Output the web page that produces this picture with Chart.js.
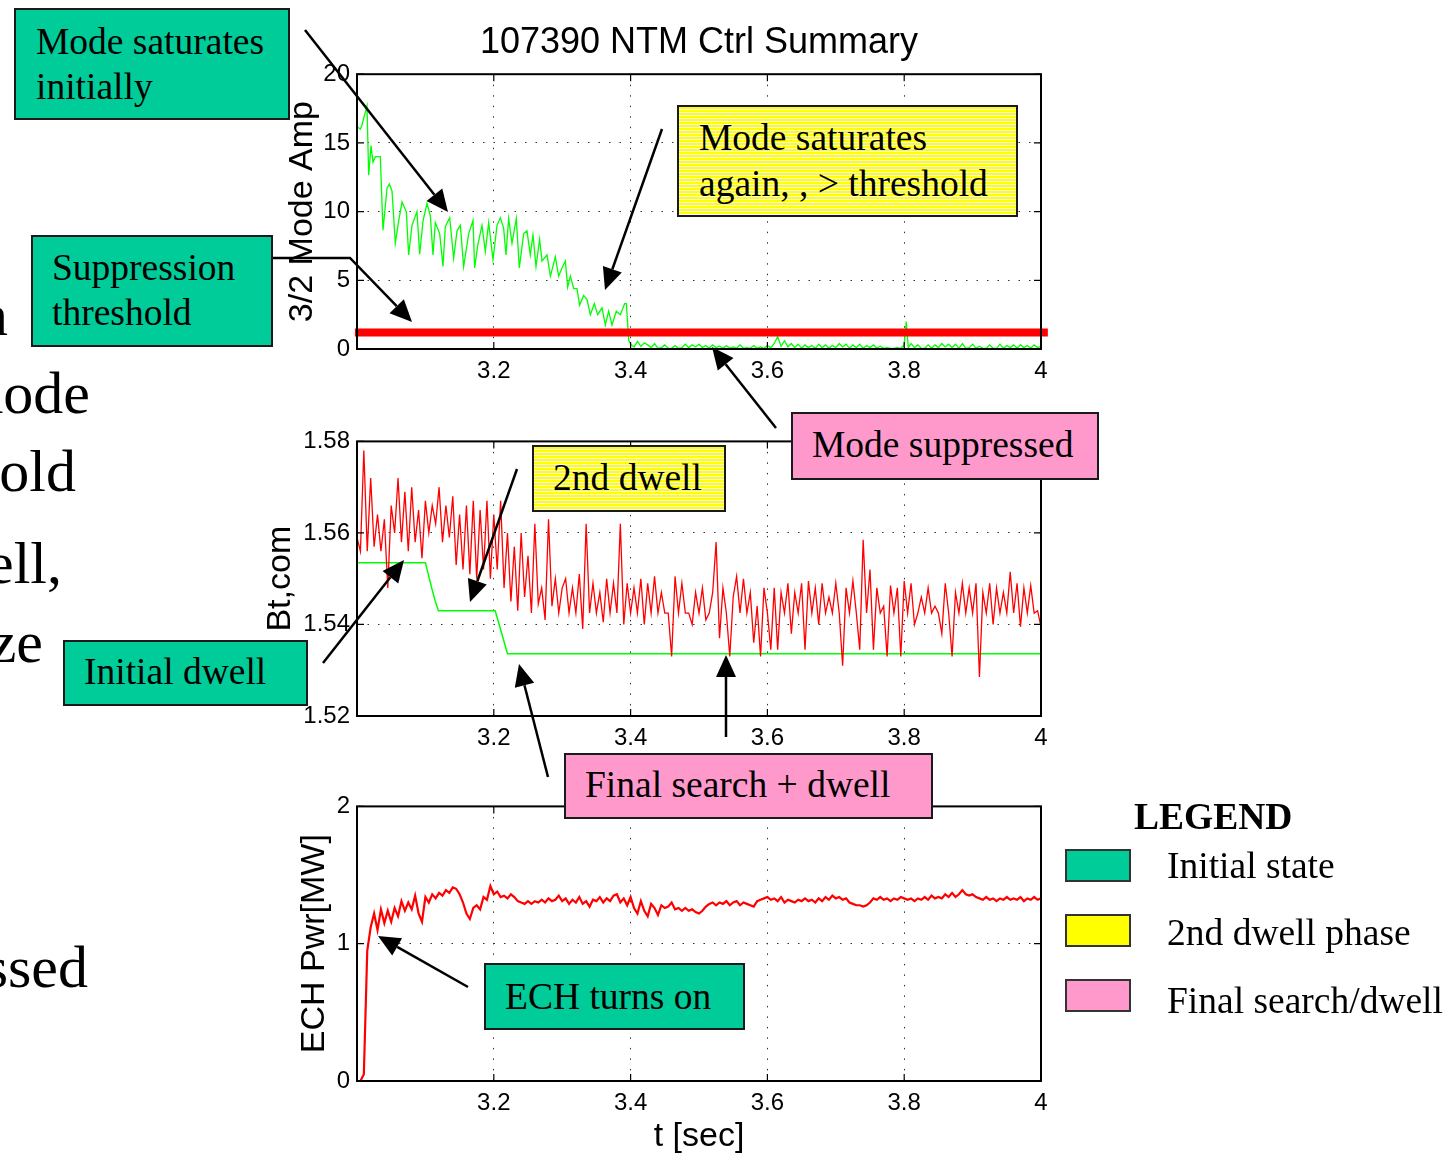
<!DOCTYPE html>
<html>
<head>
<meta charset="utf-8">
<script src="https://cdn.jsdelivr.net/npm/chart.js@4.4.1/dist/chart.umd.min.js"></script>
<style>
body { margin: 0; background: #fff; }
#page { position: relative; width: 1456px; height: 1154px; overflow: hidden; background: #fff; }
canvas { position: absolute; }
.big { position: absolute; font-family: 'Liberation Serif', 'Times New Roman', serif; font-size: 60px; line-height: 60px; white-space: nowrap; text-align: right; color: #000; }
.box { position: absolute; box-sizing: border-box; border: 2px solid #1a1a1a; font-family: 'Liberation Serif', 'Times New Roman', serif; font-size: 37.5px; line-height: 45px; color: #000; white-space: nowrap; }
.green { background: #00cc99; }
.pink { background: #ff99cc; }
.stripe { background: repeating-linear-gradient(to bottom, #ffff00 0px, #ffff00 2px, #ffffff 2px, #ffffff 3px); }
.swatch { position: absolute; box-sizing: border-box; border: 2px solid #333; width: 66px; height: 33px; }
.leg { position: absolute; font-family: 'Liberation Serif', 'Times New Roman', serif; font-size: 37.5px; line-height: 45px; white-space: nowrap; color: #000; }
#arrows { position: absolute; left: 0; top: 0; }
</style>
</head>
<body>
<div id="page">
  <div class="big" style="right:1448px;top:285px">in</div>
  <div class="big" style="right:1366px;top:363px">mode</div>
  <div class="big" style="right:1380px;top:441px">threshold</div>
  <div class="big" style="right:1394px;top:533px">dwell,</div>
  <div class="big" style="right:1413px;top:612px">size</div>
  <div class="big" style="right:1368px;top:937px">suppressed</div>

  <canvas id="ampChart" width="870" height="400" style="left:200px;top:0px"></canvas>
  <canvas id="btChart" width="870" height="347" style="left:200px;top:420px"></canvas>
  <canvas id="echChart" width="870" height="369" style="left:200px;top:785px"></canvas>

  <svg id="arrows" width="1456" height="1154"></svg>

  <div class="box green" style="left:14px;top:8px;width:276px;height:112px;padding:9px 0 0 20px">Mode saturates<br>initially</div>
  <div class="box green" style="left:31px;top:235px;width:242px;height:112px;padding:8px 0 0 19px">Suppression<br>threshold</div>
  <div class="box green" style="left:63px;top:640px;width:245px;height:66px;padding:7px 0 0 19px">Initial dwell</div>
  <div class="box green" style="left:484px;top:963px;width:261px;height:67px;padding:9px 0 0 19px">ECH turns on</div>
  <div class="box stripe" style="left:677px;top:105px;width:341px;height:112px;padding:8px 0 0 20px;line-height:46px">Mode saturates<br>again, , &gt; threshold</div>
  <div class="box stripe" style="left:532px;top:445px;width:194px;height:67px;padding:8px 0 0 19px">2nd dwell</div>
  <div class="box pink" style="left:791px;top:412px;width:308px;height:68px;padding:8px 0 0 19px">Mode suppressed</div>
  <div class="box pink" style="left:564px;top:753px;width:369px;height:66px;padding:7px 0 0 19px">Final search + dwell</div>

  <div class="leg" style="left:1134px;top:794px;font-weight:bold">LEGEND</div>
  <div class="swatch green" style="left:1065px;top:849px"></div>
  <div class="swatch" style="left:1065px;top:914px;background:#ffff00"></div>
  <div class="swatch pink" style="left:1065px;top:979px"></div>
  <div class="leg" style="left:1167px;top:843px">Initial state</div>
  <div class="leg" style="left:1167px;top:910px">2nd dwell phase</div>
  <div class="leg" style="left:1167px;top:978px">Final search/dwell</div>
</div>
<script>
// ---- 3/2 mode amplitude (top panel) ----
const ampTime = [
  3.000, 3.0049, 3.0073, 3.0146, 3.0171, 3.0205, 3.0234, 3.0268, 3.0341, 3.038,
  3.0439, 3.0473, 3.0512, 3.056, 3.0609, 3.0658, 3.0721, 3.0755, 3.0804, 3.0877,
  3.0916, 3.0965, 3.1023, 3.1072, 3.1111, 3.1145, 3.1209, 3.1257, 3.1291, 3.1355,
  3.1413, 3.1462, 3.1511, 3.1559, 3.1633, 3.1696, 3.172, 3.1764, 3.1827, 3.1876,
  3.1925, 3.1988, 3.2047, 3.2096, 3.2144, 3.2178, 3.2217, 3.2266, 3.2329, 3.2373,
  3.2437, 3.2485, 3.2534, 3.2573, 3.2617, 3.267, 3.2705, 3.2778, 3.2827, 3.29,
  3.2948, 3.2997, 3.3046, 3.308, 3.3119, 3.3168, 3.3216, 3.3255, 3.3314, 3.3363,
  3.3411, 3.347, 3.3519, 3.3582, 3.3631, 3.3679, 3.3728, 3.3791, 3.385, 3.3913,
  3.3938, 3.3972,
  3.400, 3.405, 3.410, 3.415, 3.420, 3.425, 3.430, 3.435, 3.440, 3.445,
  3.450, 3.455, 3.460, 3.465, 3.470, 3.475, 3.480, 3.485, 3.490, 3.495,
  3.500, 3.505, 3.510, 3.515, 3.520, 3.525, 3.530, 3.535, 3.540, 3.545,
  3.550, 3.555, 3.560, 3.565, 3.570, 3.575, 3.580, 3.585, 3.590, 3.595,
  3.600, 3.605, 3.610, 3.615, 3.620, 3.625, 3.630, 3.635, 3.640, 3.645,
  3.650, 3.655, 3.660, 3.665, 3.670, 3.675, 3.680, 3.685, 3.690, 3.695,
  3.700, 3.705, 3.710, 3.715, 3.720, 3.725, 3.730, 3.735, 3.740, 3.745,
  3.750, 3.755, 3.760, 3.765, 3.770, 3.775, 3.780, 3.785, 3.790, 3.795,
  3.800, 3.803, 3.806, 3.810, 3.815, 3.820, 3.825, 3.830, 3.835, 3.840,
  3.845, 3.850, 3.855, 3.860, 3.865, 3.870, 3.875, 3.880, 3.885, 3.890,
  3.895, 3.900, 3.905, 3.910, 3.915, 3.920, 3.925, 3.930, 3.935, 3.940,
  3.945, 3.950, 3.955, 3.960, 3.965, 3.970, 3.975, 3.980, 3.985, 3.990,
  3.995, 4.000
];
const ampValue = [
  16.2, 16.0, 16.3, 17.7, 12.65, 14.8, 13.6, 14.0, 14.0, 8.65,
  11.7, 12.0, 11.5, 7.7, 9.3, 10.7, 10.0, 6.85, 9.0, 10.0,
  6.9, 9.3, 10.6, 9.7, 6.85, 9.2, 8.4, 6.0, 8.9, 9.55,
  6.6, 8.6, 9.0, 6.0, 8.4, 9.35, 5.9, 7.5, 9.0, 7.1,
  9.2, 6.5, 9.0, 9.55, 8.8, 6.85, 9.5, 7.7, 9.5, 5.9,
  8.4, 8.6, 6.85, 8.3, 6.0, 8.0, 6.4, 6.85, 5.3, 6.7,
  5.3, 5.9, 6.4, 4.5, 5.3, 4.4, 4.4, 3.2, 3.9, 3.6,
  2.5, 3.3, 2.5, 3.0, 1.75, 2.75, 1.75, 2.75, 2.5, 3.3,
  3.3, 0.65,
  0.35, 0.15, 0.55, 0.20, 0.45, 0.30, 0.10, 0.40, 0.05, 0.10,
  0.30, 0.05, 0.05, 0.25, 0.05, 0.10, 0.35, 0.10, 0.30, 0.15,
  0.35, 0.10, 0.25, 0.05, 0.30, 0.10, 0.20, 0.05, 0.25, 0.05,
  0.15, 0.05, 0.30, 0.05, 0.10, 0.05, 0.25, 0.05, 0.15, 0.05,
  0.25, 0.10, 0.40, 0.90, 0.20, 0.60, 0.15, 0.40, 0.10, 0.35,
  0.05, 0.30, 0.10, 0.25, 0.05, 0.35, 0.10, 0.30, 0.05, 0.25,
  0.10, 0.40, 0.15, 0.35, 0.05, 0.30, 0.10, 0.35, 0.05, 0.25,
  0.10, 0.30, 0.05, 0.20, 0.05, 0.10, 0.05, 0.05, 0.10, 0.05,
  0.30, 2.00, 0.10, 0.40, 0.10, 0.30, 0.05, 0.05, 0.30, 0.05,
  0.30, 0.10, 0.40, 0.15, 0.35, 0.10, 0.35, 0.05, 0.40, 0.05,
  0.10, 0.35, 0.05, 0.20, 0.05, 0.05, 0.30, 0.05, 0.05, 0.35,
  0.05, 0.25, 0.10, 0.30, 0.05, 0.30, 0.10, 0.25, 0.05, 0.30,
  0.10, 0.20
];
const thresholdTime = [2.997, 4.010];
const thresholdValue = [1.2, 1.2];

// ---- Bt,com (middle panel), sampled every 5 ms from 3.0 s ----
const btStart = 3.0;
const btStep = 0.005;
const btMeasured = [
  1.5590, 1.5560, 1.5780, 1.5560, 1.5720, 1.5570, 1.5640, 1.5560, 1.5630, 1.5480,
  1.5660, 1.5600, 1.5720, 1.5580, 1.5690, 1.5560, 1.5700, 1.5580, 1.5650, 1.5545,
  1.5670, 1.5600, 1.5660, 1.5620, 1.5700, 1.5580, 1.5660, 1.5590, 1.5680, 1.5530,
  1.5640, 1.5520, 1.5660, 1.5510, 1.5670, 1.5500, 1.5650, 1.5520, 1.5670, 1.5500,
  1.5640, 1.5520, 1.5670, 1.5480, 1.5600, 1.5450, 1.5570, 1.5430, 1.5600, 1.5460,
  1.5550, 1.5425, 1.5620, 1.5445, 1.5480, 1.5410, 1.5630, 1.5440, 1.5500, 1.5425,
  1.5480, 1.5500, 1.5425, 1.5480, 1.5425, 1.5510, 1.5390, 1.5620, 1.5425, 1.5490,
  1.5425, 1.5470, 1.5405, 1.5500, 1.5425, 1.5490, 1.5425, 1.5620, 1.5400, 1.5490,
  1.5425, 1.5480, 1.5425, 1.5500, 1.5400, 1.5490, 1.5425, 1.5505, 1.5425, 1.5470,
  1.5425, 1.5425, 1.5330, 1.5505, 1.5425, 1.5490, 1.5425, 1.5425, 1.5400, 1.5470,
  1.5425, 1.5480, 1.5410, 1.5425, 1.5470, 1.5580, 1.5370, 1.5480, 1.5425, 1.5330,
  1.5460, 1.5505, 1.5425, 1.5500, 1.5425, 1.5470, 1.5360, 1.5440, 1.5330, 1.5480,
  1.5425, 1.5345, 1.5480, 1.5345, 1.5470, 1.5425, 1.5490, 1.5380, 1.5470, 1.5425,
  1.5490, 1.5345, 1.5495, 1.5425, 1.5480, 1.5400, 1.5490, 1.5425, 1.5460, 1.5425,
  1.5490, 1.5425, 1.5310, 1.5480, 1.5425, 1.5495, 1.5425, 1.5345, 1.5585, 1.5425,
  1.5520, 1.5345, 1.5480, 1.5425, 1.5440, 1.5330, 1.5485, 1.5425, 1.5480, 1.5330,
  1.5495, 1.5425, 1.5490, 1.5400, 1.5425, 1.5460, 1.5425, 1.5480, 1.5425, 1.5440,
  1.5425, 1.5380, 1.5490, 1.5425, 1.5330, 1.5470, 1.5425, 1.5490, 1.5425, 1.5480,
  1.5425, 1.5490, 1.5285, 1.5470, 1.5425, 1.5490, 1.5400, 1.5480, 1.5425, 1.5470,
  1.5425, 1.5515, 1.5425, 1.5490, 1.5395, 1.5480, 1.5425, 1.5485, 1.5425, 1.5430,
  1.5395
];
const btTargetTime = [3.000, 3.100, 3.109, 3.114, 3.119, 3.202, 3.209, 3.220, 4.000];
const btTarget = [1.5535, 1.5535, 1.5481, 1.5453, 1.5430, 1.5430, 1.5394, 1.5336, 1.5336];

// ---- ECH power (bottom panel), sampled every 5 ms from 3.0 s ----
const echStart = 3.0;
const echStep = 0.005;
const echPower = [
  0.00, 0.00, 0.05, 0.95, 1.12, 1.22, 1.10, 1.25, 1.15, 1.24,
  1.16, 1.26, 1.20, 1.31, 1.24, 1.30, 1.25, 1.35, 1.22, 1.16,
  1.34, 1.30, 1.36, 1.33, 1.37, 1.35, 1.39, 1.37, 1.41, 1.40,
  1.36, 1.30, 1.22, 1.18, 1.26, 1.28, 1.25, 1.34, 1.32, 1.42,
  1.36, 1.38, 1.34, 1.35, 1.33, 1.36, 1.34, 1.31, 1.30, 1.29,
  1.31, 1.29, 1.31, 1.30, 1.32, 1.30, 1.33, 1.31, 1.32, 1.35,
  1.31, 1.33, 1.29, 1.32, 1.30, 1.34, 1.29, 1.31, 1.27, 1.32,
  1.31, 1.34, 1.30, 1.33, 1.31, 1.35, 1.36, 1.30, 1.33, 1.28,
  1.34, 1.26, 1.22, 1.31, 1.24, 1.20, 1.29, 1.26, 1.21, 1.28,
  1.26, 1.27, 1.30, 1.25, 1.26, 1.24, 1.26, 1.24, 1.25, 1.23,
  1.22, 1.24, 1.27, 1.29, 1.30, 1.28, 1.30, 1.29, 1.31, 1.28,
  1.30, 1.31, 1.28, 1.30, 1.29, 1.28, 1.27, 1.31, 1.32, 1.33,
  1.34, 1.32, 1.33, 1.31, 1.34, 1.30, 1.32, 1.31, 1.30, 1.32,
  1.31, 1.33, 1.31, 1.32, 1.30, 1.33, 1.31, 1.34, 1.32, 1.35,
  1.33, 1.34, 1.32, 1.33, 1.30, 1.29, 1.28, 1.28, 1.27, 1.28,
  1.30, 1.33, 1.32, 1.34, 1.32, 1.33, 1.31, 1.33, 1.32, 1.34,
  1.33, 1.32, 1.33, 1.31, 1.33, 1.32, 1.34, 1.32, 1.35, 1.33,
  1.34, 1.33, 1.36, 1.34, 1.37, 1.34, 1.36, 1.39, 1.36, 1.35,
  1.36, 1.34, 1.33, 1.32, 1.34, 1.32, 1.33, 1.31, 1.33, 1.32,
  1.34, 1.32, 1.33, 1.32, 1.34, 1.31, 1.33, 1.32, 1.34, 1.32,
  1.33
];

// annotation arrows: [tail ..., tip] in page pixels
const arrowPaths = [
  [[305, 30], [448, 212]],
  [[273, 258], [350, 258], [412, 322]],
  [[662, 129], [605, 290]],
  [[776, 428], [712, 347]],
  [[323, 663], [404, 560]],
  [[517, 469], [470, 602]],
  [[548, 777], [519, 664]],
  [[726, 737], [726, 655]],
  [[468, 987], [378, 936]]
];

Chart.defaults.font.family = "'Liberation Sans', Arial, sans-serif";
Chart.defaults.color = '#000';

function toPoints(xs, ys) {
  return ys.map((y, i) => ({x: xs[i], y: y}));
}
function sampled(start, step, ys) {
  return ys.map((y, i) => ({x: +(start + i * step).toFixed(4), y: y}));
}

// matlab style box with inward tick marks
const framePlugin = {
  id: 'frame',
  afterDraw(chart) {
    const ctx = chart.ctx, a = chart.chartArea, sx = chart.scales.x, sy = chart.scales.y;
    ctx.save();
    ctx.strokeStyle = '#000';
    ctx.lineWidth = 1.2;
    ctx.beginPath();
    sx.ticks.forEach(tk => {
      const px = sx.getPixelForValue(tk.value);
      ctx.moveTo(px, a.bottom); ctx.lineTo(px, a.bottom - 7);
      ctx.moveTo(px, a.top); ctx.lineTo(px, a.top + 7);
    });
    sy.ticks.forEach(tk => {
      const py = sy.getPixelForValue(tk.value);
      ctx.moveTo(a.left, py); ctx.lineTo(a.left + 7, py);
      ctx.moveTo(a.right, py); ctx.lineTo(a.right - 7, py);
    });
    ctx.stroke();
    ctx.lineWidth = 2;
    ctx.strokeRect(a.left, a.top, a.right - a.left, a.bottom - a.top);
    ctx.restore();
  }
};

function panelOptions(cfg) {
  const gridOpts = {color: '#333', lineWidth: 1, drawTicks: false};
  return {
    responsive: false,
    animation: false,
    layout: {padding: {left: cfg.padLeft, right: 29, top: cfg.padTop, bottom: 0}},
    plugins: {
      legend: {display: false},
      tooltip: {enabled: false},
      title: cfg.title || {display: false}
    },
    elements: {point: {radius: 0}, line: {tension: 0}},
    scales: {
      x: {
        type: 'linear', min: 3, max: 4,
        ticks: {
          stepSize: 0.2, padding: 8, maxRotation: 0, autoSkip: false,
          font: {size: 24},
          callback: v => Math.abs(v - 3) < 1e-6 ? '' : String(+v.toFixed(1))
        },
        grid: gridOpts,
        border: {display: false, dash: [1.5, 9]},
        title: cfg.xTitle
          ? {display: true, text: cfg.xTitle, font: {size: 34, lineHeight: 1}, padding: 0}
          : {display: false},
        afterFit: s => { s.height = cfg.xHeight; }
      },
      y: {
        type: 'linear', min: cfg.yMin, max: cfg.yMax,
        ticks: {stepSize: cfg.yStep, padding: 7, font: {size: 24}, callback: cfg.yFormat},
        grid: gridOpts,
        border: {display: false, dash: [1.5, 9]},
        title: {display: true, text: cfg.yTitle, font: {size: 34, lineHeight: 1}, padding: 0},
        afterFit: s => { s.width = cfg.yWidth; }
      }
    }
  };
}

new Chart(document.getElementById('ampChart'), {
  type: 'line',
  data: {
    datasets: [
      {data: toPoints(thresholdTime, thresholdValue), borderColor: '#ff0000', borderWidth: 8, borderCapStyle: 'butt', clip: false},
      {data: toPoints(ampTime, ampValue), borderColor: '#00ff00', borderWidth: 1.3}
    ]
  },
  options: panelOptions({
    padLeft: 86, yWidth: 71, padTop: 0, xHeight: 51,
    yMin: 0, yMax: 20, yStep: 5, yTitle: '3/2 Mode Amp',
    yFormat: v => String(v),
    title: {display: true, text: '107390 NTM Ctrl Summary', fullSize: false,
            font: {size: 36, weight: 'normal', lineHeight: 1.2}, padding: {top: 21, bottom: 10}, color: '#000'}
  }),
  plugins: [framePlugin]
});

new Chart(document.getElementById('btChart'), {
  type: 'line',
  data: {
    datasets: [
      {data: sampled(btStart, btStep, btMeasured), borderColor: '#ff0000', borderWidth: 1.3},
      {data: toPoints(btTargetTime, btTarget), borderColor: '#00ff00', borderWidth: 1.5}
    ]
  },
  options: panelOptions({
    padLeft: 64, yWidth: 93, padTop: 20, xHeight: 51,
    yMin: 1.52, yMax: 1.58, yStep: 0.02, yTitle: 'Bt,com',
    yFormat: v => v.toFixed(2)
  }),
  plugins: [framePlugin]
});

new Chart(document.getElementById('echChart'), {
  type: 'line',
  data: {
    datasets: [
      {data: sampled(echStart, echStep, echPower), borderColor: '#ff0000', borderWidth: 2.2}
    ]
  },
  options: panelOptions({
    padLeft: 98, yWidth: 59, padTop: 20, xHeight: 73,
    yMin: 0, yMax: 2, yStep: 1, yTitle: 'ECH Pwr[MW]', xTitle: 't [sec]',
    yFormat: v => String(v)
  }),
  plugins: [framePlugin]
});

// arrows with filled heads
const svgNS = 'http://www.w3.org/2000/svg';
const svg = document.getElementById('arrows');
arrowPaths.forEach(pts => {
  const n = pts.length;
  const [px, py] = pts[n - 1];
  const [qx, qy] = pts[n - 2];
  const len = Math.hypot(px - qx, py - qy);
  const ux = (px - qx) / len, uy = (py - qy) / len;
  const headLen = 22, headHalf = 10;
  const bx = px - ux * headLen, by = py - uy * headLen;
  const linePts = pts.slice(0, n - 1).concat([[bx, by]]);
  const pl = document.createElementNS(svgNS, 'polyline');
  pl.setAttribute('points', linePts.map(p => p.join(',')).join(' '));
  pl.setAttribute('fill', 'none');
  pl.setAttribute('stroke', '#000');
  pl.setAttribute('stroke-width', '2.5');
  svg.appendChild(pl);
  const head = document.createElementNS(svgNS, 'polygon');
  const h = [[px, py], [bx - uy * headHalf, by + ux * headHalf], [bx + uy * headHalf, by - ux * headHalf]];
  head.setAttribute('points', h.map(p => p.join(',')).join(' '));
  head.setAttribute('fill', '#000');
  svg.appendChild(head);
});
</script>
</body>
</html>
